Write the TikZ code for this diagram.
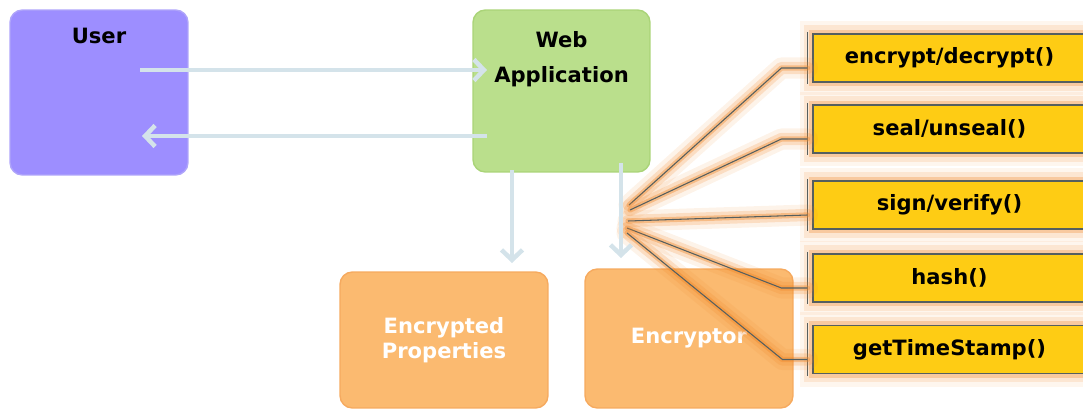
\documentclass[tikz,border=0pt]{standalone}
\usepackage{fontspec}
\setmainfont{DejaVu Sans}
\usetikzlibrary{arrows.meta}

\definecolor{userfill}{RGB}{157,142,255}
\definecolor{useredge}{RGB}{175,165,250}
\definecolor{webfill}{RGB}{186,223,140}
\definecolor{webedge}{RGB}{170,212,120}
\definecolor{encfill}{RGB}{251,186,112}
\definecolor{encedge}{RGB}{246,170,95}
\definecolor{methodfill}{RGB}{254,204,20}
\definecolor{methodedge}{RGB}{85,95,95}
\definecolor{glowcol}{RGB}{240,135,40}
\definecolor{flowcol}{RGB}{212,227,234}

\begin{document}
\begin{tikzpicture}[x=0.02cm, y=-0.02cm,
  block/.style={rounded corners=7pt, line width=0.8pt, inner sep=0pt},
  title/.style={font=\fontsize{12}{19}\selectfont\bfseries, align=center},
  methodbox/.style={fill=methodfill, draw=methodedge, line width=0.7pt,
    minimum width=5.46cm, minimum height=0.96cm, inner sep=0pt, title,
    preaction={draw=glowcol, line width=15pt, draw opacity=0.08, rounded corners=4pt},
    preaction={draw=glowcol, line width=10pt, draw opacity=0.14, rounded corners=3pt},
    preaction={draw=glowcol, line width=5pt, draw opacity=0.3}},
  flow/.style={draw=flowcol, line width=0.09cm,
    -{Straight Barb[length=0.2cm, width=0.42cm]}},
  fanline/.style={draw=methodedge, line width=0.6pt,
    preaction={draw=glowcol, line width=12pt, draw opacity=0.1, line cap=round, line join=round},
    preaction={draw=glowcol, line width=7pt, draw opacity=0.2, line cap=round, line join=round},
    preaction={draw=glowcol, line width=3pt, draw opacity=0.4, line cap=round, line join=round}},
  barline/.style={draw=methodedge, line width=0.7pt}]

\useasboundingbox (0,0) rectangle (1083,410);
\clip (0,0) rectangle (1083,410);

% main blocks
\node[block, fill=userfill, draw=useredge, minimum width=3.56cm, minimum height=3.3cm,
  label={[title, anchor=center, yshift=-0.54cm]north:User}] (user) at (99,92.5) {};
\node[block, fill=webfill, draw=webedge, minimum width=3.54cm, minimum height=3.24cm,
  label={[title, anchor=center, yshift=-1.0cm, font=\fontsize{12}{19.5}\selectfont\bfseries]north:Web\\Application}] (web) at (561.5,91) {};
\node[block, fill=encfill, draw=encedge, minimum width=4.16cm, minimum height=2.72cm,
  title, text=white, font=\fontsize{12}{14.5}\selectfont\bfseries] (props) at (444,340) {Encrypted\\Properties};
\node[block, fill=encfill, draw=encedge, minimum width=4.16cm, minimum height=2.78cm,
  title, text=white] (encryptor) at (689,338.5) {Encryptor};

% methods
\node[methodbox] (m1) at (949.5,58) {encrypt/decrypt()};
\node[methodbox] (m2) at (949.5,129) {seal/unseal()};
\node[methodbox] (m3) at (949.5,205) {sign/verify()};
\node[methodbox] (m4) at (949.5,278) {hash()};
\node[methodbox] (m5) at (949.5,349.5) {getTimeStamp()};

\foreach \m in {m1,m2,m3,m4,m5}
  \draw[barline] ([xshift=-0.1cm,yshift=0.03cm]\m.north west) -- ([xshift=-0.1cm,yshift=-0.03cm]\m.south west);

% fan from the encryptor call
\coordinate (f1) at (629,205);
\coordinate (f2) at (630,210);
\coordinate (f3) at (628,221);
\coordinate (f4) at (627,228);
\coordinate (f5) at (627,233);
\foreach \i in {1,...,5}
  \coordinate (b\i) at ([xshift=-0.1cm,yshift=-0.2cm]m\i.west);

\draw[fanline] (f1) -- ([xshift=-0.52cm]b1) -- (b1);
\draw[fanline] (f2) -- ([xshift=-0.52cm]b2) -- (b2);
\draw[fanline] (f3) -- (b3);
\draw[fanline] (f4) -- ([xshift=-0.52cm]b4) -- (b4);
\draw[fanline] (f5) -- ([xshift=-0.5cm]b5) -- (b5);

% request / response
\coordinate (req0) at (140,70);
\coordinate (req1) at (487,70);
\coordinate (res0) at (487,136);
\coordinate (res1) at (142,136);
\draw[flow] (req0) -- (req1);
\draw[flow] (res0) -- (res1);

% calls down
\coordinate (down1) at (512,170);
\coordinate (down1e) at (512,263);
\coordinate (down2) at (621,163);
\coordinate (down2e) at (621,258);
\draw[flow] (down1) -- (down1e);
\draw[flow] (down2) -- (down2e);
\end{tikzpicture}
\end{document}
